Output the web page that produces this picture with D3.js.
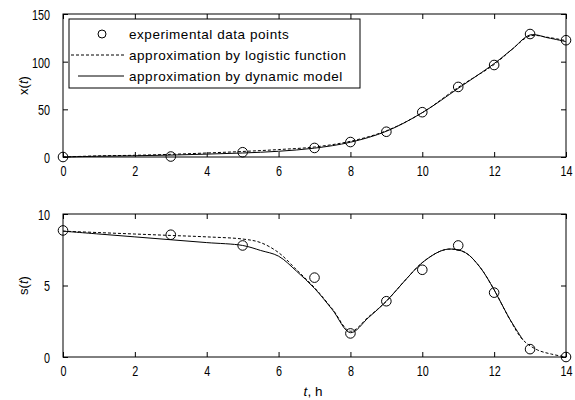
<!DOCTYPE html>
<html>
<head>
<meta charset="utf-8">
<script src="https://cdn.jsdelivr.net/npm/d3@7"></script>
<style>
  body { margin: 0; background: #fff; }
  text { font-family: "Liberation Sans", Arial, sans-serif; fill: #000; }
</style>
</head>
<body>
<div id="chart"></div>
<script>
// experimental points
var tObs = [0, 3, 5, 7, 8, 9, 10, 11, 12, 13, 14];
var xObs = [0, 0.5, 5, 9.5, 15.7, 26.5, 47, 73.5, 96.5, 129, 122.5];
var sObs = [8.85, 8.55, 7.8, 5.55, 1.65, 3.9, 6.1, 7.8, 4.5, 0.55, 0];

// model curves
var tX = [0, 1, 2, 3, 4, 5, 6, 7, 8, 9, 10, 11, 12, 12.5, 13, 13.5, 14];
var xDyn = [0, 0.8, 1.3, 2, 3, 4.2, 6, 9.3, 15.5, 27, 46.5, 72, 98, 113, 128, 125, 121];
var xLog = [0, 1.2, 1.8, 2.8, 4.2, 5.8, 7.8, 10.5, 16.5, 27.5, 46.5, 73, 97, 113, 127, 125.5, 122];

var tSdyn = [0, 1, 2, 3, 4, 5, 5.5, 6, 6.5, 7, 7.5, 8, 8.5, 9, 9.5, 10, 10.5, 10.8, 11.2, 11.6, 12, 12.4, 12.8];
var sDyn = [8.8, 8.6, 8.4, 8.2, 8.0, 7.8, 7.45, 7.05, 6.0, 4.8, 3.3, 1.7, 2.75, 3.9, 5.3, 6.6, 7.4, 7.55, 7.3, 6.3, 4.7, 2.8, 1.2];
var tSlog = [0, 1, 2, 3, 4, 5, 5.5, 6, 6.5, 7, 7.5, 8, 8.5, 9, 9.5, 10, 10.5, 10.8, 11.2, 11.6, 12, 12.4, 12.8, 13.2, 13.6, 14];
var sLog = [8.8, 8.7, 8.6, 8.5, 8.4, 8.25, 8.0, 7.3, 6.1, 4.85, 3.35, 1.8, 2.8, 3.9, 5.3, 6.6, 7.4, 7.55, 7.3, 6.3, 4.7, 2.8, 1.2, 0.5, 0.2, 0];

var tTicks = [0, 2, 4, 6, 8, 10, 12, 14];
var xTicks = [0, 50, 100, 150];
var sTicks = [0, 5, 10];

var legendLabels = ["experimental data points", "approximation by logistic function", "approximation by dynamic model"];

var W = 575, H = 400;
var left = 63, right = 566;
var squeeze = 0.72; // tick digits are tall and narrow in the original

var svg = d3.select("#chart").append("svg")
    .attr("width", W)
    .attr("height", H);

var x = d3.scaleLinear().domain([0, 14]).range([left, right]);

function panel(top, bottom, yDomain, yTicks, label, series, obsT, obsV) {
  var y = d3.scaleLinear().domain(yDomain).range([bottom, top]);
  var g = svg.append("g");

  // frame
  g.append("rect")
    .attr("x", left).attr("y", top)
    .attr("width", right - left).attr("height", bottom - top)
    .attr("fill", "none").attr("stroke", "#000").attr("stroke-width", 1);

  // axes with inward ticks
  var ax = g.append("g").attr("transform", "translate(0," + bottom + ")")
    .call(d3.axisBottom(x).tickValues(tTicks).tickSizeInner(-5).tickSizeOuter(0).tickPadding(8));
  var axT = g.append("g").attr("transform", "translate(0," + top + ")")
    .call(d3.axisTop(x).tickValues(tTicks).tickSizeInner(-5).tickSizeOuter(0).tickFormat(""));
  var ay = g.append("g").attr("transform", "translate(" + left + ",0)")
    .call(d3.axisLeft(y).tickValues(yTicks).tickSizeInner(-5).tickSizeOuter(0));
  var ayR = g.append("g").attr("transform", "translate(" + right + ",0)")
    .call(d3.axisRight(y).tickValues(yTicks).tickSizeInner(-5).tickSizeOuter(0).tickFormat(""));
  [ax, axT, ay, ayR].forEach(function(a) {
    a.select(".domain").remove();
    a.selectAll("line").attr("stroke", "#000");
    a.selectAll("text").style("font-size", "15px").attr("fill", "#000");
  });
  ax.selectAll("text").attr("transform", "scale(" + squeeze + ",1)");
  ay.selectAll("text")
    .attr("x", -13 / squeeze)
    .attr("dy", "0.36em")
    .attr("transform", "scale(" + squeeze + ",1)");

  // y label
  var lab = g.append("text")
    .attr("transform", "translate(28," + ((top + bottom) / 2) + ")rotate(-90)")
    .attr("text-anchor", "middle")
    .style("font-size", "13px");
  lab.append("tspan").text(label + "(");
  lab.append("tspan").style("font-style", "italic").text("t");
  lab.append("tspan").text(")");

  series.forEach(function(s) {
    var line = d3.line()
      .x(function(d, i) { return x(s.t[i]); })
      .y(function(d) { return y(d); })
      .curve(d3.curveCatmullRom);
    g.append("path")
      .datum(s.v)
      .attr("d", line)
      .attr("fill", "none")
      .attr("stroke", "#000")
      .attr("stroke-width", 1)
      .attr("stroke-dasharray", s.dash ? "3,2" : null);
  });

  g.selectAll("circle.obs")
    .data(obsV)
    .enter().append("circle")
      .attr("class", "obs")
      .attr("cx", function(d, i) { return x(obsT[i]); })
      .attr("cy", function(d) { return y(d); })
      .attr("r", 4.8)
      .attr("fill", "none")
      .attr("stroke", "#000")
      .attr("stroke-width", 1);
  return g;
}

panel(14, 157, [0, 150], xTicks, "x",
  [{t: tX, v: xLog, dash: true}, {t: tX, v: xDyn, dash: false}], tObs, xObs);
panel(214, 357, [0, 10], sTicks, "s",
  [{t: tSlog, v: sLog, dash: true}, {t: tSdyn, v: sDyn, dash: false}], tObs, sObs);

// x label
var xl = svg.append("text")
  .attr("x", 313).attr("y", 396)
  .attr("text-anchor", "middle")
  .style("font-size", "13.5px");
xl.append("tspan").style("font-style", "italic").text("t");
xl.append("tspan").text(", h");

// legend
var lg = svg.append("g");
lg.append("rect")
  .attr("x", 69).attr("y", 19)
  .attr("width", 291).attr("height", 69)
  .attr("fill", "#fff").attr("stroke", "#000").attr("stroke-width", 1);
var rowY = [34, 55, 76];
lg.append("circle").attr("cx", 102).attr("cy", rowY[0]).attr("r", 4)
  .attr("fill", "none").attr("stroke", "#000");
lg.append("line").attr("x1", 71).attr("x2", 124).attr("y1", rowY[1]).attr("y2", rowY[1])
  .attr("stroke", "#000").attr("stroke-dasharray", "3,2");
lg.append("line").attr("x1", 78).attr("x2", 124).attr("y1", rowY[2]).attr("y2", rowY[2])
  .attr("stroke", "#000");
lg.selectAll("text.leg")
  .data(legendLabels)
  .enter().append("text")
    .attr("class", "leg")
    .attr("x", 129)
    .attr("y", function(d, i) { return rowY[i]; })
    .attr("dy", "0.36em")
    .style("font-size", "13.5px")
    .style("letter-spacing", "0.55px")
    .text(function(d) { return d; });
</script>
</body>
</html>
